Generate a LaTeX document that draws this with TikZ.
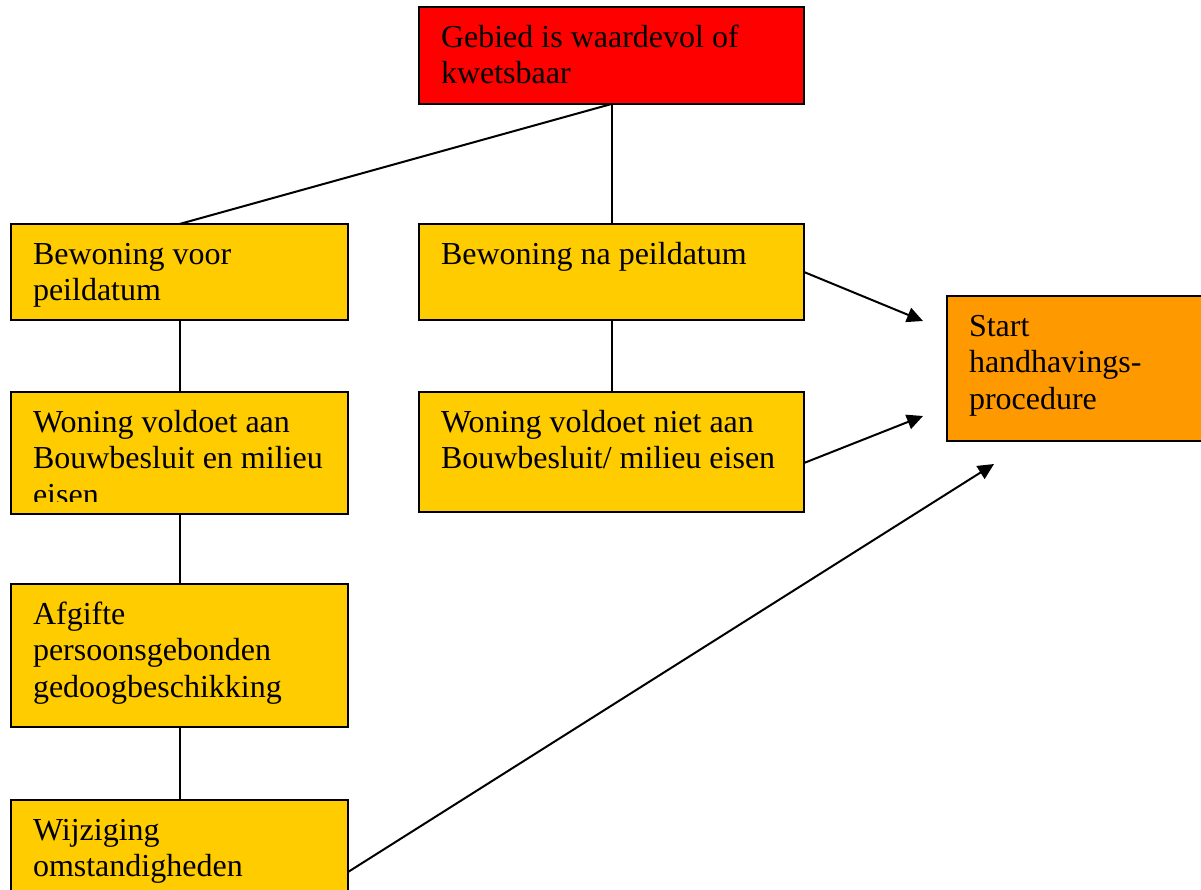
\documentclass[tikz,border=0pt]{standalone}
\usepackage{fontspec}
\setmainfont{Liberation Serif}
\usetikzlibrary{arrows.meta}
\definecolor{gebiedrood}{RGB}{255,0,0}
\definecolor{blokgeel}{RGB}{255,204,0}
\definecolor{startoranje}{RGB}{255,153,0}

\begin{document}
\begin{tikzpicture}[x=0.5pt, y=0.5pt,
    blok/.style={draw, line width=1pt, fill=blokgeel, anchor=north west,
      outer sep=0pt, inner xsep=11pt, inner ysep=0pt, text height=20pt,
      align=flush left, font=\fontsize{16}{18.4}\selectfont},
    smal/.style={blok, text width=146.5pt},
    breed/.style={blok, text width=170.5pt},
    lijn/.style={line width=1pt},
    pijl/.style={lijn, -{Triangle[length=8pt, width=7.5pt]}}]
        \clip (0,0) rectangle (1201,-890);
        \node[breed, fill=gebiedrood, text depth=28.5pt] (gebied) at (419,-7) {Gebied is waardevol of\\kwetsbaar};
        \node[smal, text depth=28pt] (voor) at (11,-224) {Bewoning voor\\peildatum};
        \node[breed, text depth=28pt] (na) at (419,-224) {Bewoning na peildatum};
        \node[smal, text depth=41pt] (voldoet) at (11,-392) {Woning voldoet aan\\Bouwbesluit en milieu\\eisen};
        % onderkant van de tekst valt weg in het origineel
        \fill[blokgeel] ([xshift=0.5pt, yshift=0.5pt]voldoet.south west) rectangle ([xshift=-0.5pt, yshift=6pt]voldoet.south east);
        \node[breed, text depth=40pt] (niet) at (419,-392) {Woning voldoet niet aan\\Bouwbesluit/ milieu eisen};
        \node[smal, text depth=51.5pt] (afgifte) at (11,-584) {Afgifte\\persoonsgebonden\\gedoogbeschikking};
        \node[smal, text depth=40pt] (wijziging) at (11,-800) {Wijziging\\omstandigheden};
        \node[blok, fill=startoranje, text width=150pt, text depth=52.5pt] (start) at (947,-296) {Start\\handhavings-\\procedure};
        \draw[lijn] (gebied.south) -- (voor.north);
        \draw[lijn] (gebied.south) -- (na.north);
        \draw[lijn] (voor) -- (voldoet);
        \draw[lijn] (na) -- (niet);
        \draw[lijn] (voldoet) -- (afgifte);
        \draw[lijn] (afgifte) -- (wijziging);
        \coordinate (pijl1) at (923,-321);
        \coordinate (pijl2) at (923,-416);
        \coordinate (pijl3) at (994,-464);
        \draw[pijl] (na.east) -- (pijl1);
        \draw[pijl] ([yshift=-5.5pt]niet.east) -- (pijl2);
        \draw[pijl] ([yshift=-6pt]wijziging.east) -- (pijl3);
    \end{tikzpicture}
\end{document}
